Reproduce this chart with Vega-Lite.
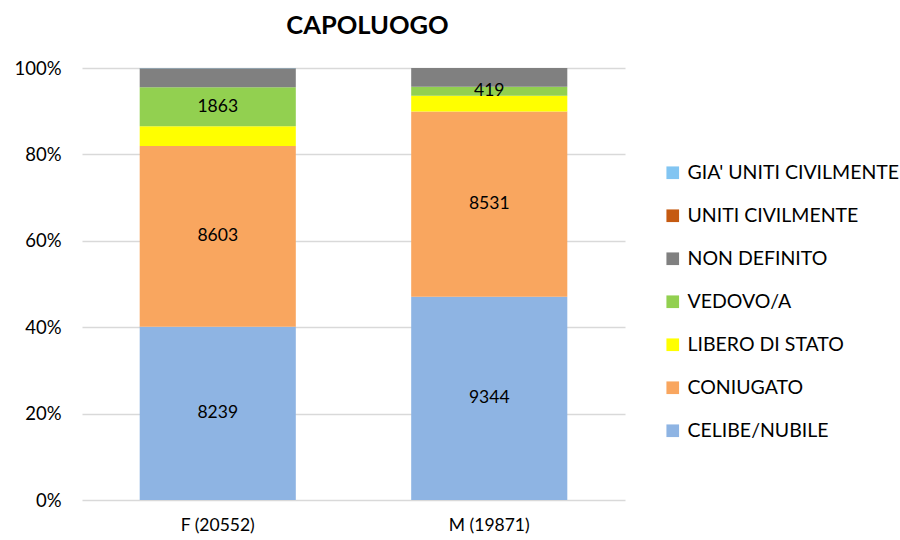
{
  "$schema": "https://vega.github.io/schema/vega-lite/v6.json",
  "width": 543,
  "height": 432,
  "autosize": "none",
  "padding": {"left": 82, "top": 68, "right": 275, "bottom": 40},
  "background": "white",
  "config": {
    "font": "Lato",
    "view": {"stroke": null}
  },
  "title": {
    "text": "CAPOLUOGO",
    "fontSize": 25.5,
    "fontWeight": "bold",
    "font": "Lato",
    "color": "#000000",
    "anchor": "middle",
    "dx": 14,
    "offset": 20
  },
  "data": {
    "values": [
      {"gruppo": "F (20552)", "stato": "CELIBE/NUBILE", "ord": 1, "n": 8239},
      {"gruppo": "F (20552)", "stato": "CONIUGATO", "ord": 2, "n": 8603},
      {"gruppo": "F (20552)", "stato": "LIBERO DI STATO", "ord": 3, "n": 935},
      {"gruppo": "F (20552)", "stato": "VEDOVO/A", "ord": 4, "n": 1863},
      {"gruppo": "F (20552)", "stato": "NON DEFINITO", "ord": 5, "n": 895},
      {"gruppo": "F (20552)", "stato": "UNITI CIVILMENTE", "ord": 6, "n": 2},
      {"gruppo": "F (20552)", "stato": "GIA' UNITI CIVILMENTE", "ord": 7, "n": 15},
      {"gruppo": "M (19871)", "stato": "CELIBE/NUBILE", "ord": 1, "n": 9344},
      {"gruppo": "M (19871)", "stato": "CONIUGATO", "ord": 2, "n": 8531},
      {"gruppo": "M (19871)", "stato": "LIBERO DI STATO", "ord": 3, "n": 715},
      {"gruppo": "M (19871)", "stato": "VEDOVO/A", "ord": 4, "n": 419},
      {"gruppo": "M (19871)", "stato": "NON DEFINITO", "ord": 5, "n": 858},
      {"gruppo": "M (19871)", "stato": "UNITI CIVILMENTE", "ord": 6, "n": 1},
      {"gruppo": "M (19871)", "stato": "GIA' UNITI CIVILMENTE", "ord": 7, "n": 3}
    ]
  },
  "transform": [
    {"stack": "n", "groupby": ["gruppo"], "sort": [{"field": "ord", "order": "ascending"}], "offset": "normalize", "as": ["y0", "y1"]},
    {"calculate": "(datum.y0 + datum.y1) / 2", "as": "ymid"}
  ],
  "encoding": {
    "x": {
      "field": "gruppo",
      "type": "nominal",
      "title": null,
      "scale": {"paddingInner": 0.425, "paddingOuter": 0.2125},
      "axis": {
        "labelAngle": 0,
        "labelFontSize": 17.5,
        "labelColor": "#000000",
        "labelPadding": 16,
        "ticks": false,
        "domain": false,
        "grid": false
      }
    }
  },
  "layer": [
    {
      "mark": {"type": "bar"},
      "encoding": {
        "y": {
          "field": "y0",
          "type": "quantitative",
          "title": null,
          "scale": {"domain": [0, 1]},
          "axis": {
            "format": ".0%",
            "values": [0, 0.2, 0.4, 0.6, 0.8, 1],
            "labelFontSize": 18.5,
            "labelColor": "#000000",
            "labelPadding": 21,
            "ticks": false,
            "domain": false,
            "grid": true,
            "gridColor": "#d9d9d9",
            "gridWidth": 1.3
          }
        },
        "y2": {"field": "y1"},
        "color": {
          "field": "stato",
          "type": "nominal",
          "title": null,
          "sort": ["GIA' UNITI CIVILMENTE", "UNITI CIVILMENTE", "NON DEFINITO", "VEDOVO/A", "LIBERO DI STATO", "CONIUGATO", "CELIBE/NUBILE"],
          "scale": {
            "domain": ["GIA' UNITI CIVILMENTE", "UNITI CIVILMENTE", "NON DEFINITO", "VEDOVO/A", "LIBERO DI STATO", "CONIUGATO", "CELIBE/NUBILE"],
            "range": ["#82C5F2", "#C55A11", "#808080", "#92D050", "#FFFF00", "#F9A65F", "#8EB4E3"]
          },
          "legend": {
            "orient": "none",
            "legendX": 581,
            "legendY": 95,
            "symbolType": "square",
            "symbolSize": 160,
            "symbolStrokeWidth": 0,
            "labelFontSize": 19.5,
            "labelColor": "#000000",
            "labelLimit": 400,
            "rowPadding": 22,
            "labelOffset": 5
          }
        }
      }
    },
    {
      "transform": [{"filter": "datum.stato == 'CELIBE/NUBILE' || datum.stato == 'CONIUGATO' || datum.stato == 'VEDOVO/A'"}],
      "mark": {"type": "text", "fontSize": 17.5, "color": "#000000", "baseline": "middle", "align": "center"},
      "encoding": {
        "y": {"field": "ymid", "type": "quantitative"},
        "text": {"field": "n", "type": "quantitative", "format": "d"}
      }
    }
  ]
}
